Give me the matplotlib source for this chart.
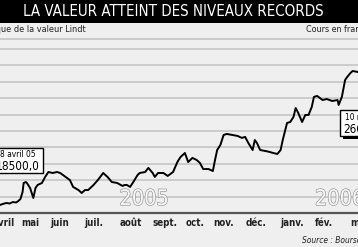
import numpy as np
import matplotlib
matplotlib.use('Agg')
import matplotlib.pyplot as plt
import matplotlib.patheffects as pe
from matplotlib.patches import Rectangle

plt.rcParams['font.family'] = ['DejaVu Sans']
plt.rcParams['font.stretch'] = 'condensed'

# days since 8 April 2005, share price (CHF)
days = [0, 3, 6, 10, 13, 16, 19, 22, 25, 27, 29, 31, 32, 34, 35, 38, 41, 43, 45, 49,
        52, 55, 59, 63, 66, 71, 75, 78, 83, 86, 89, 92, 97, 101, 106, 110, 114, 119,
        124, 126, 128, 131, 134, 138, 140, 145, 148, 152, 154, 157, 162, 166, 171,
        175, 178, 182, 185, 189, 193, 196, 199, 204, 208, 210, 212, 215, 218, 221,
        226, 231, 235, 238, 241, 245, 247, 249, 252, 257, 261, 264, 268, 271, 273,
        277, 280, 283, 285, 287, 291, 294, 297, 300, 302, 305, 310, 314, 319, 324,
        325, 328, 331, 333, 336, 338, 343]
prices = [18500, 18420, 18550, 18490, 18560, 18610, 18580, 18670, 18640, 18730,
          18850, 19280, 19830, 19890, 19830, 19525, 18915, 19525, 19710, 19830,
          20200, 20500, 20440, 20500, 20440, 20200, 20010, 19590, 19400, 19220,
          19400, 19400, 19710, 20010, 20440, 20200, 19890, 19830, 19650, 19710,
          19710, 19590, 19890, 20320, 20440, 20500, 20750, 20440, 20200, 20440,
          20440, 20260, 20500, 21110, 21420, 21660, 21110, 21360, 21230, 21050,
          20680, 20680, 20560, 21230, 21840, 22150, 22760, 22820, 22760, 22700,
          22580, 22640, 22270, 21840, 22450, 22270, 21840, 21780, 21720, 21660,
          21600, 21840, 22450, 23490, 23550, 23860, 24400, 24160, 23550, 23980,
          23980, 24470, 25080, 25140, 24890, 24950, 24830, 24890, 24590, 25080,
          26110, 26300, 26540, 26660, 26600]

months = ['avril', 'mai', 'juin', 'juil.', 'août', 'sept.', 'oct.', 'nov.',
          'déc.', 'janv.', 'fév.', 'mars']
month_pos = [13.3, 37.9, 65.8, 97.4, 131.9, 163.5, 191.4, 218.4, 248.1, 281.6,
             311.4, 347.7]
grid_vals = [19000, 20000, 21000, 22000, 23000, 24000, 25000, 26000, 27000, 28000]

W, H = 358, 247
bg = '#efefef'


def fx(px):
    return px / W


def fy(py):
    return 1 - py / H


fig = plt.figure(figsize=(W / 100, H / 100), dpi=100)
fig.patch.set_facecolor(bg)

# title bar
fig.patches.append(Rectangle((0, fy(23)), 1, 23 / H, transform=fig.transFigure,
                             facecolor='black', edgecolor='none', zorder=0))
fig.text(fx(173), fy(12), 'LA VALEUR ATTEINT DES NIVEAUX RECORDS', color='white',
         fontsize=10.8, ha='center', va='center')
fig.text(fx(86), fy(30), 'Historique de la valeur Lindt', fontsize=6.6,
         ha='right', va='center', color='#222222')
fig.text(fx(306), fy(30), 'Cours en francs', fontsize=6.4, ha='left',
         va='center', color='#222222')
fig.add_artist(plt.Line2D([0, 1], [fy(39.5), fy(39.5)], transform=fig.transFigure,
                          color='#c4c4c4', lw=1.2))

ax = fig.add_axes([0, fy(213), 1, (213 - 40) / H])
ax.set_facecolor(bg)
ax.set_xlim(10, 343)
ax.set_ylim(18000, 28550)
for g in grid_vals:
    ax.axhline(g, color='#c6c6c6', lw=1.2, zorder=1)
ax.plot(days, prices, color='black', lw=1.4, zorder=3, solid_joinstyle='round')
for s in ['top', 'left', 'right']:
    ax.spines[s].set_visible(False)
ax.spines['bottom'].set_color('#555555')
ax.spines['bottom'].set_linewidth(1.6)
ax.set_xticks([])
ax.set_yticks([])

for m, p in zip(months, month_pos):
    ax.text(p, -0.06, m, transform=ax.get_xaxis_transform(), ha='center',
            va='center', fontsize=7, fontweight='bold', color='#222222',
            clip_on=False)

# year watermarks
outline = [pe.withStroke(linewidth=1.0, foreground='#9a9a9a')]
fig.text(fx(144), fy(199), '2005', fontsize=15.5, ha='center', va='center',
         color='#f7f7f7', path_effects=outline)
fig.text(fx(315), fy(199), '2006', fontsize=15.5, ha='left', va='center',
         color='#f7f7f7', path_effects=outline)

# annotation boxes
fig.patches.append(Rectangle((fx(-10), fy(173)), fx(53), 25 / H,
                             transform=fig.transFigure, facecolor='white',
                             edgecolor='black', lw=1.0, zorder=5))
fig.text(fx(0), fy(154.5), '8 avril 05', fontsize=6, ha='left', va='center',
         zorder=6)
fig.text(fx(-4), fy(166), '18500,0', fontsize=8.5, ha='left', va='center', zorder=6)

fig.patches.append(Rectangle((fx(343), fy(139)), fx(40), 4 / H,
                             transform=fig.transFigure, facecolor='black',
                             edgecolor='none', zorder=5))
fig.patches.append(Rectangle((fx(340), fy(136)), fx(40), 26 / H,
                             transform=fig.transFigure, facecolor='white',
                             edgecolor='black', lw=1.0, zorder=5))
fig.text(fx(345), fy(117), '10 mars 06', fontsize=6, ha='left', va='center',
         zorder=6)
fig.text(fx(343), fy(129), '26600,0', fontsize=8.5, ha='left', va='center', zorder=6)

fig.text(fx(302), fy(240), 'Source : Bourse suisse', fontsize=6,
         style='italic', ha='left', va='center', color='#222222')

fig.savefig('out.png', dpi=100, facecolor=bg)
